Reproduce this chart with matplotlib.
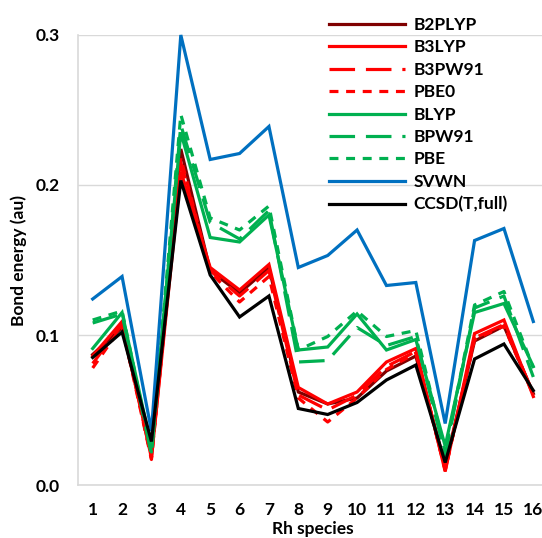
import matplotlib
matplotlib.use("Agg")
import matplotlib.pyplot as plt

plt.rcParams['font.family'] = ['Lato', 'DejaVu Sans']
plt.rcParams['font.weight'] = 'bold'

species = list(range(1, 17))

b2plyp = [0.087, 0.105, 0.022, 0.224, 0.143, 0.128, 0.145, 0.062, 0.054, 0.058, 0.076, 0.086, 0.013, 0.096, 0.106, 0.061]
b3lyp  = [0.086, 0.109, 0.018, 0.209, 0.145, 0.130, 0.147, 0.065, 0.054, 0.062, 0.082, 0.091, 0.009, 0.101, 0.110, 0.059]
b3pw91 = [0.081, 0.107, 0.018, 0.215, 0.143, 0.126, 0.143, 0.060, 0.050, 0.060, 0.079, 0.089, 0.010, 0.098, 0.107, 0.061]
pbe0   = [0.078, 0.106, 0.017, 0.218, 0.142, 0.122, 0.139, 0.058, 0.042, 0.058, 0.077, 0.088, 0.010, 0.097, 0.106, 0.060]
blyp   = [0.091, 0.115, 0.025, 0.235, 0.165, 0.162, 0.180, 0.090, 0.092, 0.114, 0.090, 0.097, 0.026, 0.115, 0.121, 0.079]
bpw91  = [0.108, 0.114, 0.020, 0.240, 0.175, 0.164, 0.183, 0.082, 0.083, 0.105, 0.093, 0.099, 0.020, 0.118, 0.126, 0.072]
pbe    = [0.110, 0.116, 0.022, 0.247, 0.178, 0.170, 0.186, 0.090, 0.099, 0.116, 0.099, 0.103, 0.022, 0.120, 0.129, 0.078]
svwn   = [0.124, 0.139, 0.036, 0.300, 0.217, 0.221, 0.239, 0.145, 0.153, 0.170, 0.133, 0.135, 0.041, 0.163, 0.171, 0.109]
ccsd   = [0.085, 0.102, 0.029, 0.203, 0.140, 0.112, 0.126, 0.051, 0.047, 0.055, 0.070, 0.080, 0.015, 0.084, 0.094, 0.063]

y_ticks = [0.0, 0.1, 0.2, 0.3]

LONG = (0, (8.0, 3.4))
SHORT = (0, (2.8, 2.4))

series = [
    ("B2PLYP", b2plyp, "#7F0000", "-"),
    ("B3LYP", b3lyp, "#FF0000", "-"),
    ("B3PW91", b3pw91, "#FF0000", LONG),
    ("PBE0", pbe0, "#FF0000", SHORT),
    ("BLYP", blyp, "#00B050", "-"),
    ("BPW91", bpw91, "#00B050", LONG),
    ("PBE", pbe, "#00B050", SHORT),
    ("SVWN", svwn, "#0070C0", "-"),
    ("CCSD(T,full)", ccsd, "#000000", "-"),
]

FS = 12.5

W, H = 542, 538
fig = plt.figure(figsize=(W / 100, H / 100), dpi=100)
ax = fig.add_axes([78 / W, (H - 485) / H, (548 - 78) / W, 450 / H])

for name, vals, color, ls in series:
    ax.plot(species, vals, color=color, linestyle=ls, linewidth=2.3,
            label=name, clip_on=False, solid_joinstyle='miter')

ax.set_xlim(0.5, 16.5)
ax.set_ylim(0, 0.3)
ax.set_yticks(y_ticks)
ax.set_yticklabels([f"{v:.1f}" for v in y_ticks])
ax.set_xticks(species)
ax.set_xticklabels([str(s) for s in species])
ax.tick_params(axis='both', length=0, labelsize=FS)
ax.tick_params(axis='y', pad=13)
ax.tick_params(axis='x', pad=12)
ax.grid(axis='y', color='#D9D9D9', linewidth=1.0)
ax.set_axisbelow(True)
for side in ('top', 'right'):
    ax.spines[side].set_visible(False)
for side in ('left', 'bottom'):
    ax.spines[side].set_color('#D9D9D9')
    ax.spines[side].set_linewidth(1.2)

ax.set_xlabel("Rh species", fontsize=FS, fontweight='bold', labelpad=2.5)
ax.set_ylabel("Bond energy (au)", fontsize=FS, fontweight='bold', labelpad=6.5)

fig.legend(loc='upper left', bbox_to_anchor=(322 / W, 1 - 10 / H),
           frameon=False, fontsize=FS, handlelength=4.4, handletextpad=0.45,
           labelspacing=0.37, borderaxespad=0)

fig.savefig("out.png", dpi=100)
